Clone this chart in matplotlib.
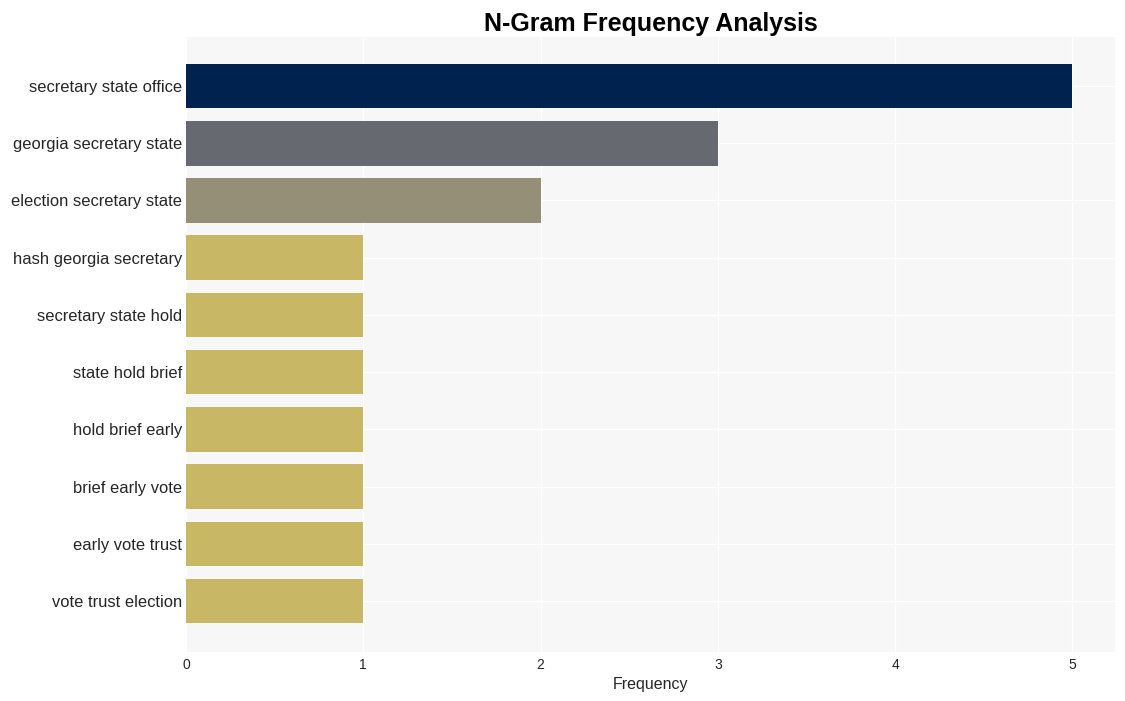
import matplotlib
matplotlib.use("Agg")
import matplotlib.pyplot as plt

plt.rcParams["font.family"] = ["Liberation Sans", "DejaVu Sans"]
plt.rcParams["text.color"] = "#262626"
plt.rcParams["axes.labelcolor"] = "#262626"
plt.rcParams["xtick.color"] = "#262626"
plt.rcParams["ytick.color"] = "#262626"

ngrams = [
    "secretary state office", "georgia secretary state", "election secretary state",
    "hash georgia secretary", "secretary state hold", "state hold brief",
    "hold brief early", "brief early vote", "early vote trust", "vote trust election",
]
counts = [5, 3, 2, 1, 1, 1, 1, 1, 1, 1]
bar_colors = ["#00224e", "#666970", "#958f78", "#c8b866", "#c8b866",
              "#c8b866", "#c8b866", "#c8b866", "#c8b866", "#c8b866"]

fig = plt.figure(figsize=(11.25, 7.01), dpi=100)
ax = fig.add_axes([186 / 1125, 49 / 701, 929 / 1125, 615 / 701])
ax.set_facecolor("#f7f7f7")

ypos = range(len(ngrams))
ax.barh(ypos, counts, color=bar_colors, height=0.78, zorder=2)
ax.set_yticks(list(ypos))
ax.set_yticklabels(ngrams, fontsize=11.9)
ax.set_ylim(9.89, -0.857)
ax.set_xlim(0, 5.24)

ax.grid(True, color="white", linewidth=1, zorder=0)
ax.set_axisbelow(True)
for s in ax.spines.values():
    s.set_visible(False)
ax.tick_params(axis="both", length=0)
ax.tick_params(axis="x", labelsize=10, pad=4)
ax.tick_params(axis="y", pad=3)

ax.set_xlabel("Frequency", fontsize=11.5, labelpad=4)
ax.set_title("N-Gram Frequency Analysis", fontsize=18, fontweight="bold", pad=4,
             color="black")

fig.savefig("out.png", dpi=100)
